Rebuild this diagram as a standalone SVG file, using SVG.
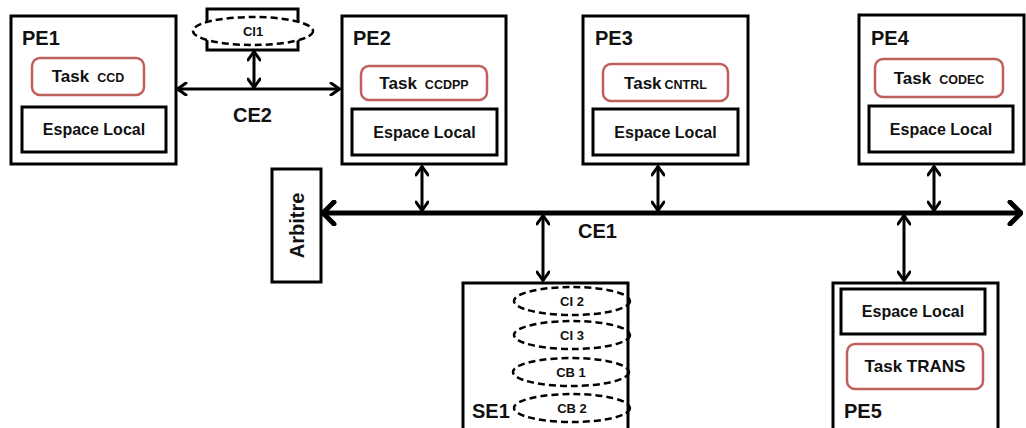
<svg xmlns="http://www.w3.org/2000/svg" width="1026" height="428" viewBox="0 0 1026 428">
<defs>
<style>
text{font-family:"Liberation Sans",Arial,sans-serif;font-weight:bold;fill:#111}
.box{fill:#fff;stroke:#000;stroke-width:3}
.task{fill:#fff;stroke:#c0605d;stroke-width:2.5}
.mem{fill:#fff;stroke:#000;stroke-width:3}
.dash{stroke:#000;stroke-width:2.5;stroke-dasharray:7 4}
.pe{font-size:20px}
.tk{font-size:17px}
.sm{font-size:12.5px}
.ci{font-size:13px}
.el{font-size:16px}
.big{font-size:20px}
.lnk{stroke:#000;stroke-width:3;fill:none;marker-start:url(#ah);marker-end:url(#ah)}
</style>
<marker id="ah" viewBox="0 0 12 14" refX="11" refY="7" markerWidth="12" markerHeight="14" markerUnits="userSpaceOnUse" orient="auto-start-reverse">
<path d="M2,1 L10.5,7 L2,13" fill="none" stroke="#000" stroke-width="3" stroke-linecap="round" stroke-linejoin="round"/>
</marker>
<marker id="bh" viewBox="0 0 16 26" refX="15" refY="13" markerWidth="16" markerHeight="26" markerUnits="userSpaceOnUse" orient="auto-start-reverse">
<path d="M3,2 L14,13 L3,24" fill="none" stroke="#000" stroke-width="5" stroke-linecap="round" stroke-linejoin="round"/>
</marker>
</defs>
<rect width="1026" height="428" fill="#fff"/>

<g id="PE1">
<rect class="box" x="11" y="16" width="165" height="148"/>
<text class="pe" x="22" y="45">PE1</text>
<rect class="task" x="32" y="58" width="112" height="37" rx="8"/>
<text x="88" y="82" text-anchor="middle"><tspan class="tk">Task</tspan><tspan class="sm" dx="8">CCD</tspan></text>
<rect class="mem" x="22" y="107" width="144" height="45"/>
<text class="el" x="94" y="135" text-anchor="middle">Espace Local</text>
</g>

<g id="CI1">
<rect class="box" x="207" y="9" width="91" height="41"/>
<ellipse class="dash" cx="253" cy="31" rx="60" ry="14" fill="#fff"/>
<text class="ci" x="253" y="35.5" text-anchor="middle">CI1</text>
</g>

<g id="PE2">
<rect class="box" x="342" y="16" width="164" height="148"/>
<text class="pe" x="353" y="45">PE2</text>
<rect class="task" x="361" y="66" width="126" height="34" rx="8"/>
<text x="424" y="89" text-anchor="middle"><tspan class="tk">Task</tspan><tspan class="sm" dx="8">CCDPP</tspan></text>
<rect class="mem" x="352" y="109" width="145" height="46"/>
<text class="el" x="424.5" y="137.5" text-anchor="middle">Espace Local</text>
</g>

<g id="PE3">
<rect class="box" x="583" y="16" width="165" height="148"/>
<text class="pe" x="595" y="45">PE3</text>
<rect class="task" x="603" y="64" width="125" height="37" rx="8"/>
<text x="665.5" y="88.5" text-anchor="middle"><tspan class="tk">Task</tspan><tspan class="sm" dx="3">CNTRL</tspan></text>
<rect class="mem" x="593" y="109" width="145" height="46"/>
<text class="el" x="665.5" y="137.5" text-anchor="middle">Espace Local</text>
</g>

<g id="PE4">
<rect class="box" x="859" y="15" width="165" height="149"/>
<text class="pe" x="871" y="45">PE4</text>
<rect class="task" x="875" y="59" width="128" height="38" rx="8"/>
<text x="939" y="84" text-anchor="middle"><tspan class="tk">Task</tspan><tspan class="sm" dx="8">CODEC</tspan></text>
<rect class="mem" x="869" y="106" width="144" height="46"/>
<text class="el" x="941" y="134.5" text-anchor="middle">Espace Local</text>
</g>

<g id="Arbitre">
<rect class="box" x="272" y="169" width="49" height="113"/>
<text class="big" transform="translate(304,225.5) rotate(-90)" text-anchor="middle">Arbitre</text>
</g>

<g id="SE1">
<rect class="box" x="463" y="283" width="165" height="160"/>
<ellipse class="dash" cx="572" cy="301" rx="58" ry="14" fill="none"/>
<text class="ci" x="572" y="305.5" text-anchor="middle">CI 2</text>
<ellipse class="dash" cx="572" cy="335" rx="58" ry="14" fill="none"/>
<text class="ci" x="572" y="339.5" text-anchor="middle">CI 3</text>
<ellipse class="dash" cx="571" cy="372" rx="58" ry="14" fill="none"/>
<text class="ci" x="571" y="376.5" text-anchor="middle">CB 1</text>
<ellipse class="dash" cx="572" cy="408" rx="58" ry="14" fill="none"/>
<text class="ci" x="572" y="412.5" text-anchor="middle">CB 2</text>
<text class="big" x="472" y="418">SE1</text>
</g>

<g id="PE5">
<rect class="box" x="833" y="283" width="165" height="160"/>
<rect class="mem" x="841" y="289" width="144" height="45"/>
<text class="el" x="913" y="317" text-anchor="middle">Espace Local</text>
<rect class="task" x="847" y="344" width="136" height="45" rx="8"/>
<text class="tk" x="915" y="372" text-anchor="middle">Task TRANS</text>
<text class="pe" x="844" y="418">PE5</text>
</g>

<g id="connectors">
<line x1="322" y1="213" x2="1022" y2="213" stroke="#000" stroke-width="5" marker-start="url(#bh)" marker-end="url(#bh)"/>
<line class="lnk" x1="177" y1="89" x2="340" y2="89"/>
<line class="lnk" x1="254" y1="51" x2="254" y2="88"/>
<line class="lnk" x1="422" y1="166" x2="422" y2="211"/>
<line class="lnk" x1="658" y1="166" x2="658" y2="211"/>
<line class="lnk" x1="934" y1="166" x2="934" y2="211"/>
<line class="lnk" x1="543" y1="215" x2="543" y2="281"/>
<line class="lnk" x1="904" y1="215" x2="904" y2="281"/>
<text class="big" x="233" y="122">CE2</text>
<text class="big" x="578" y="238">CE1</text>
</g>
</svg>
